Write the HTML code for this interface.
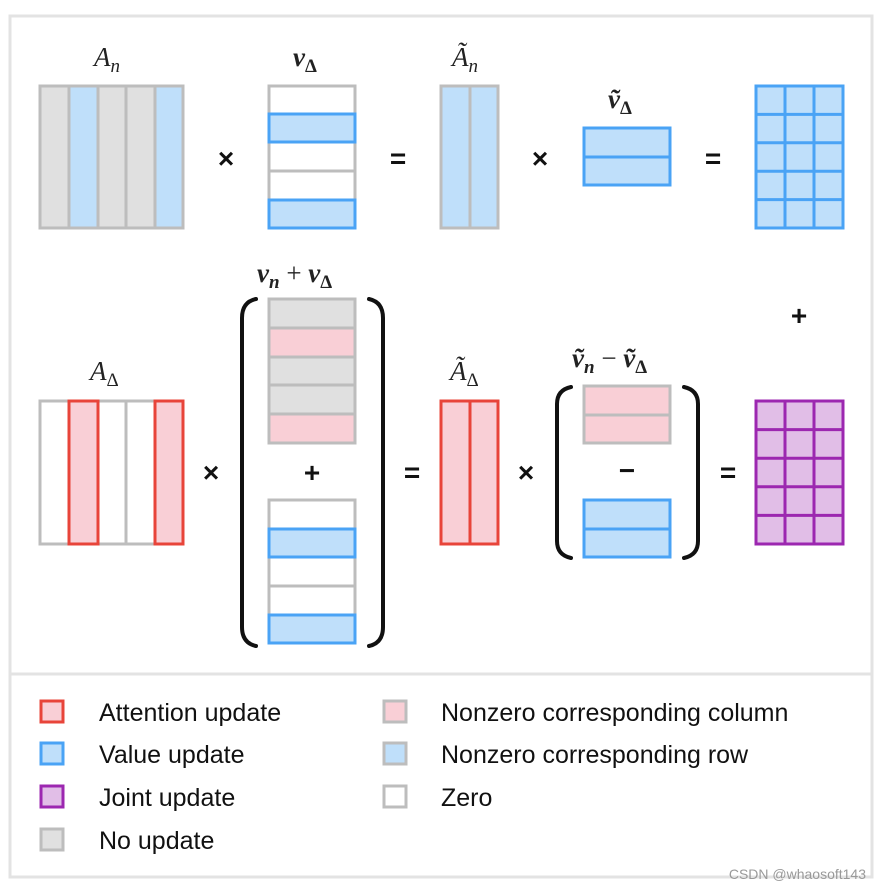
<!DOCTYPE html>
<html><head><meta charset="utf-8"><style>
html,body{margin:0;padding:0;background:#fff;}
svg{display:block;}
.m{font-family:"Liberation Serif",serif;font-style:italic;font-size:27px;fill:#222;}
.b{font-weight:bold;}
.s{font-size:19px;}
.op{font-family:"Liberation Sans",sans-serif;font-weight:bold;font-size:28px;fill:#111;text-anchor:middle;}
.lg{font-family:"Liberation Sans",sans-serif;font-size:25px;fill:#111;}
</style></head><body>
<svg width="882" height="889" viewBox="0 0 882 889" xmlns="http://www.w3.org/2000/svg">
<rect x="10" y="16" width="862" height="861" fill="#fff" stroke="#e3e3e3" stroke-width="3"/>
<line x1="10" y1="674" x2="872" y2="674" stroke="#e3e3e3" stroke-width="3"/>
<g stroke-width="3">
<!-- Top row A_n -->
<rect x="40" y="86" width="29" height="142" fill="#e0e0e0" stroke="#bdbdbd"/>
<rect x="69" y="86" width="29" height="142" fill="#bfdffa" stroke="#bdbdbd"/>
<rect x="98" y="86" width="28" height="142" fill="#e0e0e0" stroke="#bdbdbd"/>
<rect x="126" y="86" width="29" height="142" fill="#e0e0e0" stroke="#bdbdbd"/>
<rect x="155" y="86" width="28" height="142" fill="#bfdffa" stroke="#bdbdbd"/>
<!-- v_delta -->
<rect x="269" y="86" width="86" height="142" fill="#fff" stroke="#bdbdbd"/>
<line x1="269" y1="171" x2="355" y2="171" stroke="#bdbdbd"/>
<rect x="269" y="114" width="86" height="28" fill="#bfdffa" stroke="#4aa3f5"/>
<rect x="269" y="200" width="86" height="28" fill="#bfdffa" stroke="#4aa3f5"/>
<!-- Ã_n -->
<rect x="441" y="86" width="29" height="142" fill="#bfdffa" stroke="#bdbdbd"/>
<rect x="470" y="86" width="28" height="142" fill="#bfdffa" stroke="#bdbdbd"/>
<!-- ṽ_Δ -->
<rect x="584" y="128" width="86" height="29" fill="#bfdffa" stroke="#4aa3f5"/>
<rect x="584" y="157" width="86" height="28" fill="#bfdffa" stroke="#4aa3f5"/>
<!-- result blue -->
<rect x="756" y="86" width="87" height="142" fill="#bfdffa" stroke="#4aa3f5"/>
<path d="M785 86V228M814 86V228M756 114.4H843M756 142.8H843M756 171.2H843M756 199.6H843" stroke="#4aa3f5"/>

<!-- Bottom A_Δ -->
<rect x="40" y="401" width="143" height="143" fill="#fff" stroke="#bdbdbd"/>
<line x1="126" y1="401" x2="126" y2="544" stroke="#bdbdbd"/>
<rect x="69" y="401" width="29" height="143" fill="#f9cfd6" stroke="#e8443a"/>
<rect x="155" y="401" width="28" height="143" fill="#f9cfd6" stroke="#e8443a"/>
<!-- upper v_n -->
<rect x="269" y="299" width="86" height="29" fill="#e0e0e0" stroke="#bdbdbd"/>
<rect x="269" y="328" width="86" height="29" fill="#f9cfd6" stroke="#bdbdbd"/>
<rect x="269" y="357" width="86" height="28" fill="#e0e0e0" stroke="#bdbdbd"/>
<rect x="269" y="385" width="86" height="29" fill="#e0e0e0" stroke="#bdbdbd"/>
<rect x="269" y="414" width="86" height="29" fill="#f9cfd6" stroke="#bdbdbd"/>
<!-- lower v_Δ -->
<rect x="269" y="500" width="86" height="143" fill="#fff" stroke="#bdbdbd"/>
<line x1="269" y1="586" x2="355" y2="586" stroke="#bdbdbd"/>
<rect x="269" y="529" width="86" height="28" fill="#bfdffa" stroke="#4aa3f5"/>
<rect x="269" y="615" width="86" height="28" fill="#bfdffa" stroke="#4aa3f5"/>
<!-- Ã_Δ -->
<rect x="441" y="401" width="29" height="143" fill="#f9cfd6" stroke="#e8443a"/>
<rect x="470" y="401" width="28" height="143" fill="#f9cfd6" stroke="#e8443a"/>
<!-- ṽ_n -->
<rect x="584" y="386" width="86" height="29" fill="#f9cfd6" stroke="#bdbdbd"/>
<rect x="584" y="415" width="86" height="28" fill="#f9cfd6" stroke="#bdbdbd"/>
<rect x="584" y="500" width="86" height="29" fill="#bfdffa" stroke="#4aa3f5"/>
<rect x="584" y="529" width="86" height="28" fill="#bfdffa" stroke="#4aa3f5"/>
<!-- purple -->
<rect x="756" y="401" width="87" height="143" fill="#e1bee7" stroke="#9c27b0"/>
<path d="M785 401V544M814 401V544M756 429.6H843M756 458.2H843M756 486.8H843M756 515.4H843" stroke="#9c27b0"/>
</g>
<!-- parens -->
<g fill="none" stroke="#111" stroke-width="4" stroke-linecap="round">
<path d="M256 299 Q242 302 242 318 V627 Q242 643 256 646"/>
<path d="M369 299 Q383 302 383 318 V627 Q383 643 369 646"/>
<path d="M571 387 Q557 390 557 404 V541 Q557 555 571 558"/>
<path d="M684 387 Q698 390 698 404 V541 Q698 555 684 558"/>
</g>
<!-- operators -->
<text class="op" x="226" y="168">×</text>
<text class="op" x="398" y="168">=</text>
<text class="op" x="540" y="168">×</text>
<text class="op" x="713" y="168">=</text>
<text class="op" x="211" y="482">×</text>
<text class="op" x="312" y="482">+</text>
<text class="op" x="412" y="482">=</text>
<text class="op" x="526" y="482">×</text>
<text class="op" x="627" y="480">−</text>
<text class="op" x="728" y="482">=</text>
<text class="op" x="799" y="325">+</text>
<!-- labels -->
<text class="m" x="94" y="66">A<tspan class="s" dy="6">n</tspan></text>
<text class="m b" x="293" y="66">v<tspan class="s" dy="6" font-style="normal">Δ</tspan></text>
<text class="m" x="452" y="66">Ã<tspan class="s" dy="6">n</tspan></text>
<text class="m b" x="608" y="108">ṽ<tspan class="s" dy="6" font-style="normal">Δ</tspan></text>
<text class="m" x="90" y="380">A<tspan class="s" dy="6" font-style="normal">Δ</tspan></text>
<text class="m b" x="257" y="282">v<tspan class="s" dy="6">n</tspan><tspan dy="-6" font-weight="normal" font-style="normal"> + </tspan>v<tspan class="s" dy="6" font-style="normal">Δ</tspan></text>
<text class="m" x="450" y="380">Ã<tspan class="s" dy="6" font-style="normal">Δ</tspan></text>
<text class="m b" x="572" y="367">ṽ<tspan class="s" dy="6">n</tspan><tspan dy="-6" font-weight="normal" font-style="normal"> − </tspan>ṽ<tspan class="s" dy="6" font-style="normal">Δ</tspan></text>
<!-- legend -->
<g stroke-width="3">
<rect x="41" y="701" width="22" height="21" fill="#f9cfd6" stroke="#e8443a"/>
<rect x="41" y="743" width="22" height="21" fill="#bfdffa" stroke="#4aa3f5"/>
<rect x="41" y="786" width="22" height="21" fill="#e1bee7" stroke="#9c27b0"/>
<rect x="41" y="829" width="22" height="21" fill="#e0e0e0" stroke="#bdbdbd"/>
<rect x="384" y="701" width="22" height="21" fill="#f9cfd6" stroke="#bdbdbd"/>
<rect x="384" y="743" width="22" height="21" fill="#bfdffa" stroke="#bdbdbd"/>
<rect x="384" y="786" width="22" height="21" fill="#fff" stroke="#bdbdbd"/>
</g>
<text class="lg" x="99" y="721">Attention update</text>
<text class="lg" x="99" y="763">Value update</text>
<text class="lg" x="99" y="806">Joint update</text>
<text class="lg" x="99" y="849">No update</text>
<text class="lg" x="441" y="721">Nonzero corresponding column</text>
<text class="lg" x="441" y="763">Nonzero corresponding row</text>
<text class="lg" x="441" y="806">Zero</text>
<text x="866" y="879" text-anchor="end" font-family="Liberation Sans,sans-serif" font-size="14" fill="#999">CSDN @whaosoft143</text>
</svg>
</body></html>
